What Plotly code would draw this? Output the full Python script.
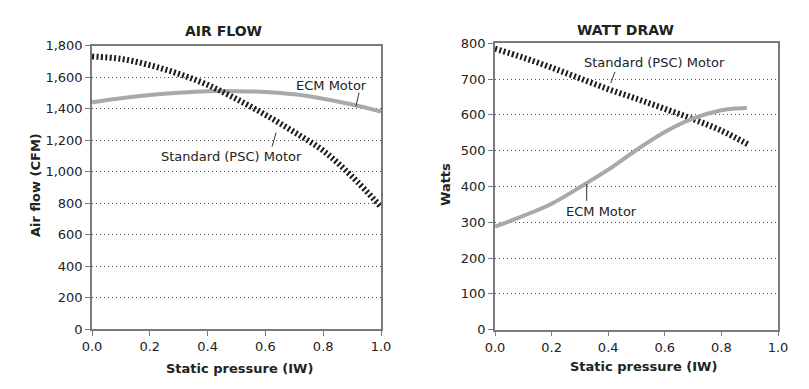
import plotly.graph_objects as go

# ---- data ----
pressure_af = [0.0, 0.1, 0.2, 0.3, 0.4, 0.5, 0.6, 0.7, 0.8, 0.9, 1.0]
ecm_airflow = [1440, 1465, 1485, 1500, 1510, 1510, 1505, 1490, 1462, 1425, 1380]
psc_airflow = [1730, 1715, 1675, 1620, 1550, 1460, 1360, 1250, 1132, 968, 775]

pressure_w_psc = [0.0, 0.1, 0.2, 0.3, 0.4, 0.5, 0.6, 0.7, 0.8, 0.9]
psc_watts = [785, 760, 732, 702, 672, 645, 617, 588, 556, 515]
pressure_w_ecm = [0.0, 0.1, 0.2, 0.3, 0.4, 0.5, 0.6, 0.7, 0.8, 0.85, 0.89]
ecm_watts = [288, 318, 352, 398, 447, 502, 552, 590, 613, 618, 619]

x_ticks = [0.0, 0.2, 0.4, 0.6, 0.8, 1.0]
af_ticks = [0, 200, 400, 600, 800, 1000, 1200, 1400, 1600, 1800]
w_ticks = [0, 100, 200, 300, 400, 500, 600, 700, 800]

FONT = "DejaVu Sans"
TXT = "#222222"
ECM_COLOR = "#a9a9a9"
PSC_COLOR = "#1c1c1c"
AX_COLOR = "#7a7a7a"
GRID_COLOR = "#555555"

# page body has an 8px margin: figure drawn at (8, 8)
OFF = 8
W, H = 809 - OFF, 389 - OFF

def px(x):
    return (x - OFF) / W

def py(y):
    return 1 - (y - OFF) / H

fig = go.Figure()
fig.add_trace(go.Scatter(x=pressure_af, y=ecm_airflow, mode="lines", line=dict(color=ECM_COLOR, width=4, shape="spline"),
                         xaxis="x", yaxis="y", showlegend=False))
fig.add_trace(go.Scatter(x=pressure_af, y=psc_airflow, mode="lines", line=dict(color=PSC_COLOR, width=6, dash="2px,2.4px", shape="spline"),
                         xaxis="x", yaxis="y", showlegend=False))
fig.add_trace(go.Scatter(x=pressure_w_psc, y=psc_watts, mode="lines", line=dict(color=PSC_COLOR, width=6, dash="2px,2.4px", shape="spline"),
                         xaxis="x2", yaxis="y2", showlegend=False))
fig.add_trace(go.Scatter(x=pressure_w_ecm, y=ecm_watts, mode="lines", line=dict(color=ECM_COLOR, width=4, shape="spline"),
                         xaxis="x2", yaxis="y2", showlegend=False))

xcommon = dict(range=[0, 1], tickvals=x_ticks, tickformat=".1f", showgrid=False, zeroline=False,
               showline=True, linecolor=AX_COLOR, linewidth=1.5, mirror=True, automargin=False,
               ticks="outside", ticklen=5, tickcolor=AX_COLOR, tickwidth=1.2,
               tickfont=dict(family=FONT, size=13, color=TXT))
ycommon = dict(showgrid=True, gridcolor=GRID_COLOR, gridwidth=1, griddash="1px,3px", zeroline=False,
               showline=True, linecolor=AX_COLOR, linewidth=1.5, mirror=True, automargin=False,
               ticks="outside", ticklen=5, tickcolor=AX_COLOR, tickwidth=1.2,
               tickfont=dict(family=FONT, size=13, color=TXT))

fig.update_layout(
    width=W, height=H, margin=dict(l=0, r=0, t=0, b=0),
    paper_bgcolor="white", plot_bgcolor="white",
    xaxis=dict(domain=[px(92), px(381)], anchor="y", **xcommon),
    yaxis=dict(domain=[py(329), py(45.5)], anchor="x", range=[0, 1800], tickvals=af_ticks,
               tickformat=",", **ycommon),
    xaxis2=dict(domain=[px(495), px(778)], anchor="y2", **xcommon),
    yaxis2=dict(domain=[py(329.7), py(43.3)], anchor="x2", range=[0, 800], tickvals=w_ticks,
                **ycommon),
)

def txt(x, y, s, size=13, bold=False, angle=0, xref="paper", yref="paper"):
    fig.add_annotation(x=x, y=y, xref=xref, yref=yref, text=f"<b>{s}</b>" if bold else s, showarrow=False,
                       textangle=angle, xanchor="center", yanchor="middle",
                       font=dict(family=FONT, size=size, color=TXT))

# titles
txt(px(223), py(31), "AIR FLOW", size=14, bold=True)
txt(px(625), py(30), "WATT DRAW", size=14, bold=True)
txt(px(239), py(368), "Static pressure (IW)", size=13, bold=True)
txt(px(643), py(366), "Static pressure (IW)", size=13, bold=True)
txt(px(35), py(185), "Air flow (CFM)", size=13, bold=True, angle=-90)
txt(px(445), py(185), "Watts", size=13, bold=True, angle=-90)

# series labels
txt(0.830, 1546, "ECM Motor", xref="x", yref="y")
txt(0.481, 1094, "Standard (PSC) Motor", xref="x", yref="y")
txt(0.562, 745, "Standard (PSC) Motor", xref="x2", yref="y2")
txt(0.375, 330, "ECM Motor", xref="x2", yref="y2")

# pointer lines
pl = dict(color="#333333", width=1)
fig.add_shape(type="line", xref="x", yref="y", x0=0.924, y0=1501, x1=0.913, y1=1412, line=pl)
fig.add_shape(type="line", xref="x", yref="y", x0=0.623, y0=1158, x1=0.637, y1=1247, line=pl)
fig.add_shape(type="line", xref="x2", yref="y2", x0=0.409, y0=689, x1=0.424, y1=720, line=pl)
fig.add_shape(type="line", xref="x2", yref="y2", x0=0.324, y0=407, x1=0.324, y1=360, line=pl)

fig.write_html("out.html")
